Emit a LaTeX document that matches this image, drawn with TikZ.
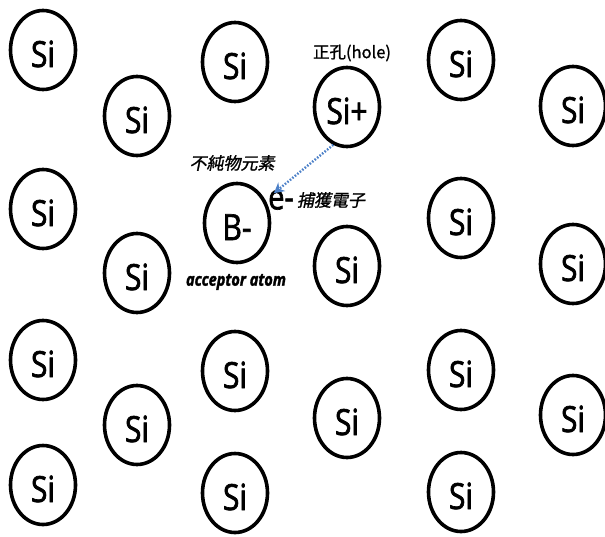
\documentclass[tikz,border=0pt]{standalone}
\usepackage{fontspec}
\setmainfont[FakeBold=1.8, FakeStretch=0.83]{Open Sans}
\newfontfamily\jp[FakeBold=1.2]{Noto Sans CJK JP}
\newfontfamily\jpit[FakeSlant=0.2, FakeBold=1.2]{Noto Sans CJK JP}
\usetikzlibrary{shapes.geometric,arrows.meta}
\definecolor{eblue}{RGB}{76,128,200}
\tikzset{
  atom/.style={draw, ellipse, line width=3.6pt, minimum width=65pt, minimum height=79pt,
    inner sep=0pt, font=\fontsize{36}{36}\selectfont, text depth=0pt, text height=34pt},
  lbl/.style={inner sep=0pt}
}
\begin{document}
\begin{tikzpicture}[x=1pt, y=-1pt]
\useasboundingbox (0,0) rectangle (605,536);
% silicon lattice
\foreach \x/\y/\n in {43/50/a1, 43/209/a2, 43/360/a3, 43/485/a4,
    137/116/b1, 137/273/b2, 137/425/b3,
    235/62/c1, 235/371/c3, 235/493/c4,
    347/266/d2, 347/418/d3,
    461/60/e1, 461/218/e2, 461/370/e3, 461/492/e4,
    573/106/f1, 573/264/f2, 573/415/f3}
  \node[atom] (\n) at (\x,\y) {Si};
\node[atom] (sip) at (347,107) {Si+};
\node[atom] (boron) at (237,223) {B-};
% labels
\node[lbl, font=\jp\fontsize{16.5}{16.5}\selectfont] (hole) at (352,53) {正孔(hole)};
\node[lbl, font=\jpit\fontsize{17}{17}\selectfont] (impurity) at (232,163) {不純物元素};
\node[lbl, font=\fontsize{35}{35}\selectfont] (elec) at (281,200) {e-};
\node[lbl, font=\jpit\fontsize{17}{17}\selectfont] (capture) at (331,200) {捕獲電子};
\node[lbl, font=\bfseries\itshape\fontsize{17.5}{17.5}\selectfont] (acc) at (236,282) {acceptor atom};
\coordinate (tip) at ([xshift=6pt, yshift=-3pt]elec.north west);
\draw[eblue, line width=2.4pt, dash pattern=on 1.6pt off 1.6pt, -{Stealth[length=10pt, width=11pt]}] (sip.250) -- (tip);
\end{tikzpicture}
\end{document}
